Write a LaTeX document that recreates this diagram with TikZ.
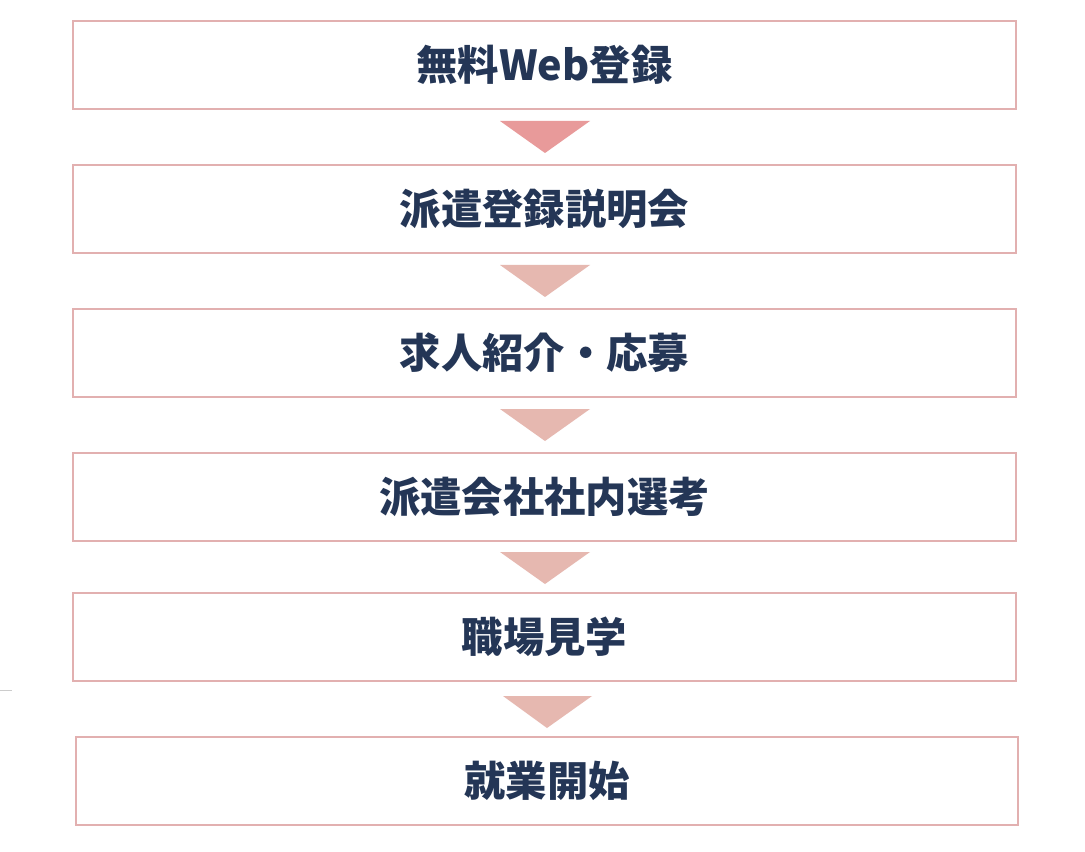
\documentclass[tikz,border=0pt]{standalone}
\usepackage{fontspec}
\newfontfamily\jp{Noto Sans CJK JP}
\definecolor{boxline}{HTML}{E2B0B0}
\definecolor{arrowA}{HTML}{E89A9A}
\definecolor{arrowB}{HTML}{E6B8B0}
\definecolor{txt}{HTML}{243656}
\tikzset{
  stepbox/.style={draw=boxline, line width=1pt, fill=white},
  steplabel/.style={font=\jp\bfseries\fontsize{31pt}{36pt}\selectfont, text=txt, inner sep=0pt},
}
\begin{document}
\begin{tikzpicture}[x=0.75pt,y=-0.75pt]
\useasboundingbox[fill=white] (0,0) rectangle (1085,852);
% boxes
\draw[stepbox] (73,21) rectangle (1016,109) node[midway, steplabel] (s1) {無料Web登録};
\draw[stepbox] (73,165) rectangle (1016,253) node[midway, steplabel] (s2) {派遣登録説明会};
\draw[stepbox] (73,309) rectangle (1016,397) node[midway, steplabel] (s3) {求人紹介・応募};
\draw[stepbox] (73,453) rectangle (1016,541) node[midway, steplabel] (s4) {派遣会社社内選考};
\draw[stepbox] (73,593) rectangle (1016,681) node[midway, steplabel] (s5) {職場見学};
\draw[stepbox] (76,737) rectangle (1018,825) node[midway, steplabel] (s6) {就業開始};
% arrows
\fill[arrowA] (500,121) -- (590,121) -- (545,153) -- cycle;
\fill[arrowB] (500,265) -- (590,265) -- (545,297) -- cycle;
\fill[arrowB] (500,409) -- (590,409) -- (545,441) -- cycle;
\fill[arrowB] (500,552) -- (590,552) -- (545,584) -- cycle;
\fill[arrowB] (503,696) -- (592,696) -- (547,728) -- cycle;
% stray mark at left
\draw[gray!40, line width=0.6pt] (0,690) -- (12,690);
\end{tikzpicture}
\end{document}
